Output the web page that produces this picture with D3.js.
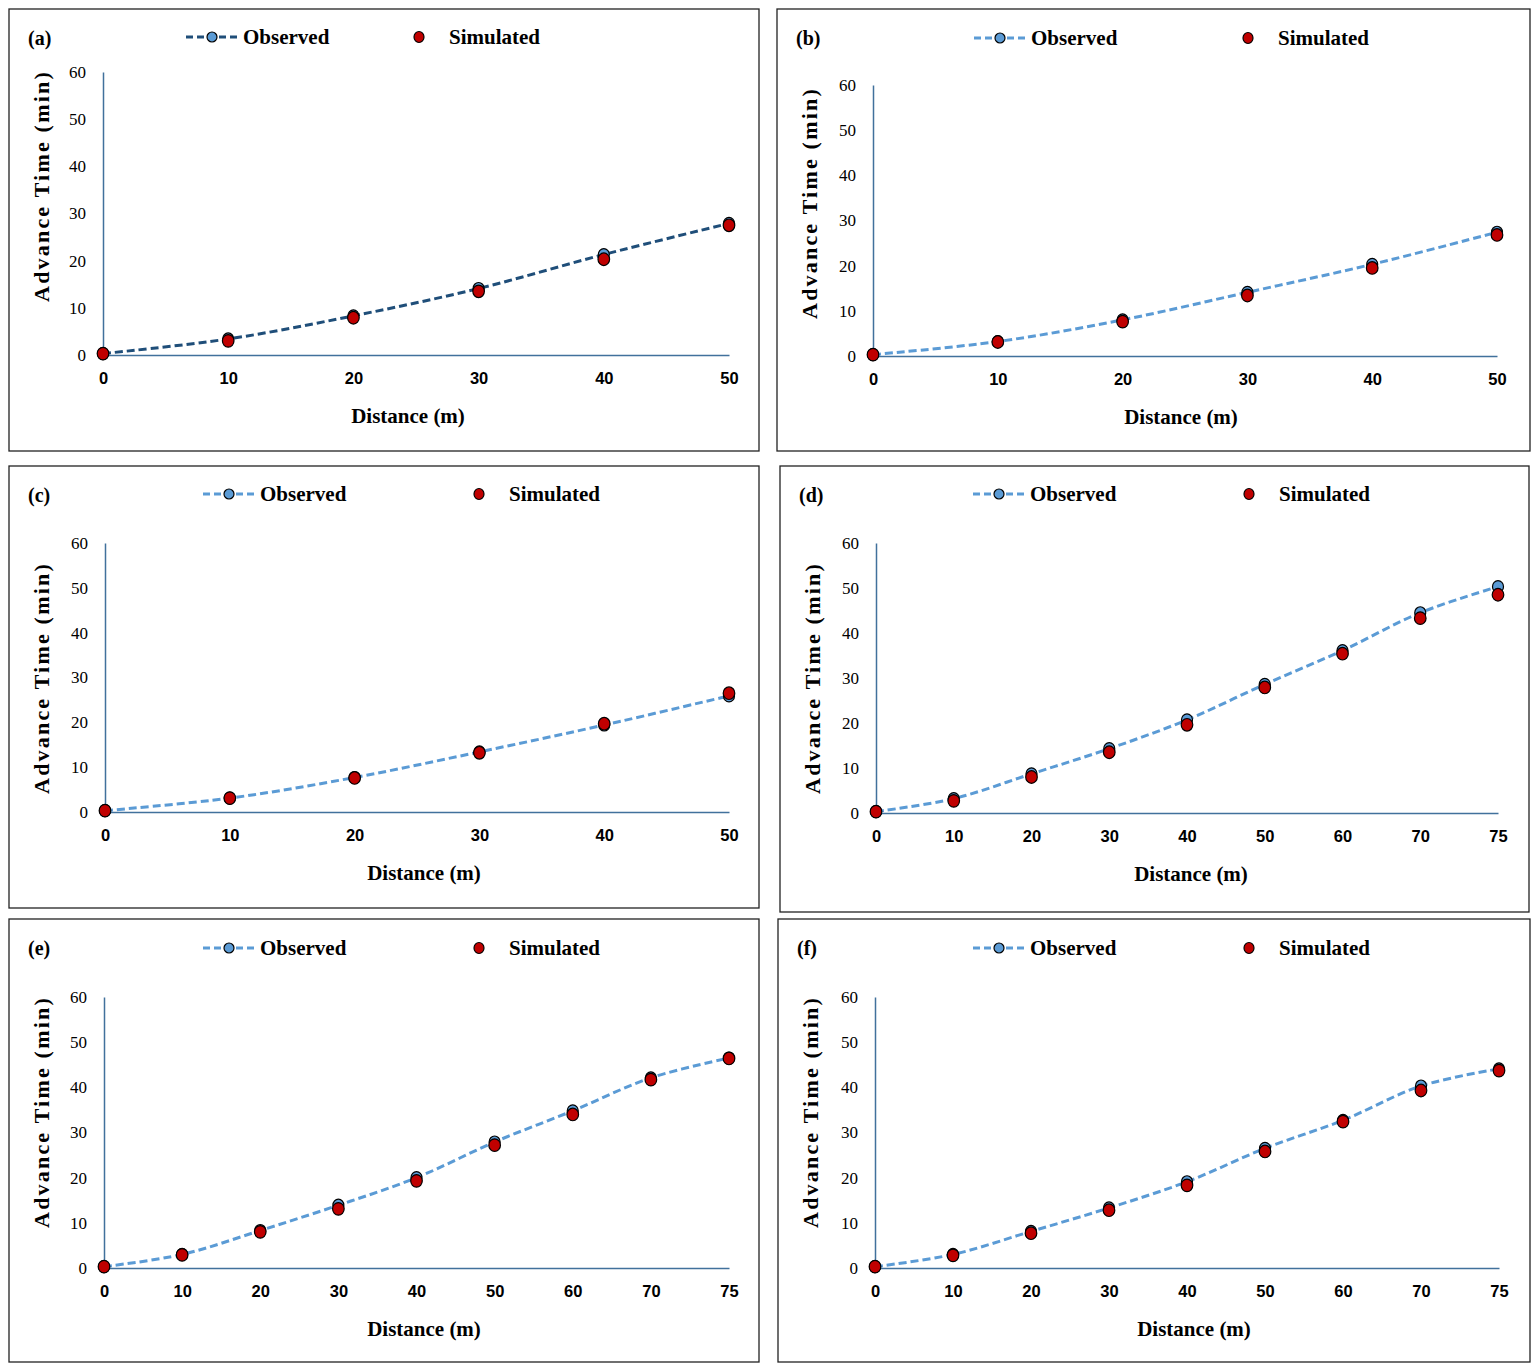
<!DOCTYPE html>
<html lang="en">
<head>
    <meta charset="UTF-8">
    <title>Advance Time vs Distance</title>
    <script src="https://cdn.jsdelivr.net/npm/d3@7"></script>
    <style>
        body { margin: 0; background: #fff; }
        svg { display: block; }
    </style>
</head>
<body>
    <div id="chart"></div>
    <script>
        // data
        const panelLabels = ["(a)", "(b)", "(c)", "(d)", "(e)", "(f)"];
        const dist50 = [0, 10, 20, 30, 40, 50];
        const dist75 = [0, 10, 20, 30, 40, 50, 60, 70, 75];
        const yTicks = [0, 10, 20, 30, 40, 50, 60];

        const obsA = [0.3, 3.4, 8.3, 14.1, 21.3, 27.9];
        const simA = [0.3, 3.0, 7.9, 13.5, 20.3, 27.5];
        const obsB = [0.3, 3.2, 8.0, 14.1, 20.3, 27.4];
        const simB = [0.3, 3.1, 7.6, 13.4, 19.5, 26.8];
        const obsC = [0.3, 3.1, 7.7, 13.4, 19.4, 25.9];
        const simC = [0.3, 3.1, 7.6, 13.2, 19.7, 26.5];
        const obsD = [0.3, 3.2, 8.7, 14.3, 20.7, 28.6, 36.1, 44.5, 50.3];
        const simD = [0.3, 2.7, 8.0, 13.5, 19.6, 27.9, 35.4, 43.3, 48.5];
        const obsE = [0.3, 3.0, 8.3, 13.9, 20.0, 27.9, 34.8, 42.1, 46.5];
        const simE = [0.3, 2.9, 8.0, 13.1, 19.3, 27.2, 34.0, 41.7, 46.4];
        const obsF = [0.3, 3.0, 8.1, 13.3, 19.1, 26.5, 32.7, 40.3, 44.1];
        const simF = [0.3, 2.8, 7.7, 12.8, 18.3, 25.8, 32.4, 39.3, 43.7];

        // panel boxes and plot areas (page pixels)
        const panels = [
            { box: [9, 9, 759, 451], plot: [103, 729, 355, 72], leg: [212, 419, 37], lineColor: "#1F4E79", xcat: dist50, obs: obsA, sim: simA, xlab: 408, ylab: 186 },
            { box: [777, 9, 1530, 451], plot: [873, 1497, 356, 85], leg: [1000, 1248, 38], lineColor: "#5B9BD5", xcat: dist50, obs: obsB, sim: simB, xlab: 1181, ylab: 203 },
            { box: [9, 466, 759, 908], plot: [105, 729, 812, 543], leg: [229, 479, 494], lineColor: "#5B9BD5", xcat: dist50, obs: obsC, sim: simC, xlab: 424, ylab: 678 },
            { box: [780, 466, 1529, 912], plot: [876, 1498, 813, 543], leg: [999, 1249, 494], lineColor: "#5B9BD5", xcat: dist75, obs: obsD, sim: simD, xlab: 1191, ylab: 678 },
            { box: [9, 919, 759, 1362], plot: [104, 729, 1268, 997], leg: [229, 479, 948], lineColor: "#5B9BD5", xcat: dist75, obs: obsE, sim: simE, xlab: 424, ylab: 1112 },
            { box: [778, 919, 1530, 1362], plot: [875, 1499, 1268, 997], leg: [999, 1249, 948], lineColor: "#5B9BD5", xcat: dist75, obs: obsF, sim: simF, xlab: 1194, ylab: 1112 }
        ];

        const axisColor = "#41719C";
        const obsFill = "#5B9BD5";
        const simFill = "#C00000";
        const serif = "'Liberation Serif', 'Times New Roman', serif";
        const sans = "'Liberation Sans', Arial, sans-serif";

        const svg = d3.select("#chart")
            .append("svg")
            .attr("width", 1538)
            .attr("height", 1372);

        panels.forEach((p, i) => {
            const g = svg.append("g");

            // frame
            g.append("rect")
                .attr("x", p.box[0]).attr("y", p.box[1])
                .attr("width", p.box[2] - p.box[0]).attr("height", p.box[3] - p.box[1])
                .attr("fill", "none").attr("stroke", "#222").attr("stroke-width", 1.3);

            // panel letter
            g.append("text")
                .attr("x", p.box[0] + 19).attr("y", p.box[1] + 36)
                .style("font-family", serif).style("font-weight", "bold").style("font-size", "20px")
                .text(panelLabels[i]);

            // scales
            const x = d3.scalePoint()
                .domain(p.xcat)
                .range([p.plot[0], p.plot[1]])
                .padding(0);
            const y = d3.scaleLinear()
                .domain([0, 60])
                .range([p.plot[2], p.plot[3]]);

            // y axis
            const ya = g.append("g")
                .attr("transform", `translate(${p.plot[0]},0)`)
                .call(d3.axisLeft(y).tickValues(yTicks).tickSize(0).tickPadding(17));
            ya.select(".domain").attr("stroke", axisColor).attr("stroke-width", 1.5);
            ya.selectAll("text")
                .style("font-family", serif).style("font-size", "17px").attr("fill", "#000");

            // x axis
            const xa = g.append("g")
                .attr("transform", `translate(0,${p.plot[2]})`)
                .call(d3.axisBottom(x).tickSize(0).tickPadding(17));
            xa.select(".domain").attr("stroke", axisColor).attr("stroke-width", 1.5);
            xa.selectAll("text")
                .style("font-family", sans).style("font-weight", "bold").style("font-size", "16.5px").attr("fill", "#000");

            // axis titles
            g.append("text")
                .attr("x", p.xlab).attr("y", p.plot[2] + 68)
                .attr("text-anchor", "middle")
                .style("font-family", serif).style("font-weight", "bold").style("font-size", "21px")
                .text("Distance (m)");
            g.append("text")
                .attr("transform", `translate(${p.box[0] + 40},${p.ylab}) rotate(-90)`)
                .attr("text-anchor", "middle")
                .style("font-family", serif).style("font-weight", "bold").style("font-size", "22px")
                .style("letter-spacing", "2.2px")
                .text("Advance Time (min)");

            // observed smooth dashed line
            const pts = p.xcat.map((d, k) => ({ d: d, o: p.obs[k], s: p.sim[k] }));
            const line = d3.line()
                .x(d => x(d.d))
                .y(d => y(d.o))
                .curve(d3.curveCatmullRom.alpha(0.5));
            g.append("path")
                .datum(pts)
                .attr("d", line)
                .attr("fill", "none")
                .attr("stroke", p.lineColor)
                .attr("stroke-width", 3)
                .attr("stroke-dasharray", "8,4");

            g.selectAll(".obs")
                .data(pts)
                .enter().append("ellipse")
                .attr("class", "obs")
                .attr("cx", d => x(d.d)).attr("cy", d => y(d.o))
                .attr("rx", 5.5).attr("ry", 6)
                .attr("fill", obsFill).attr("stroke", "#000").attr("stroke-width", 1.2);

            g.selectAll(".sim")
                .data(pts)
                .enter().append("ellipse")
                .attr("class", "sim")
                .attr("cx", d => x(d.d)).attr("cy", d => y(d.s))
                .attr("rx", 5.8).attr("ry", 6.3)
                .attr("fill", simFill).attr("stroke", "#000").attr("stroke-width", 1.2);

            // legend
            const lx = p.leg[0], sx = p.leg[1], ly = p.leg[2];
            g.append("line")
                .attr("x1", lx - 26).attr("x2", lx + 26)
                .attr("y1", ly).attr("y2", ly)
                .attr("stroke", p.lineColor).attr("stroke-width", 3)
                .attr("stroke-dasharray", "7,4");
            g.append("circle")
                .attr("cx", lx).attr("cy", ly).attr("r", 5)
                .attr("fill", obsFill).attr("stroke", "#000").attr("stroke-width", 1.2);
            g.append("text")
                .attr("x", lx + 31).attr("y", ly + 7)
                .style("font-family", serif).style("font-weight", "bold").style("font-size", "21px")
                .text("Observed");
            g.append("ellipse")
                .attr("cx", sx).attr("cy", ly).attr("rx", 5).attr("ry", 5.5)
                .attr("fill", simFill).attr("stroke", "#000").attr("stroke-width", 1.2);
            g.append("text")
                .attr("x", sx + 30).attr("y", ly + 7)
                .style("font-family", serif).style("font-weight", "bold").style("font-size", "21px")
                .text("Simulated");
        });
    </script>
</body>
</html>
